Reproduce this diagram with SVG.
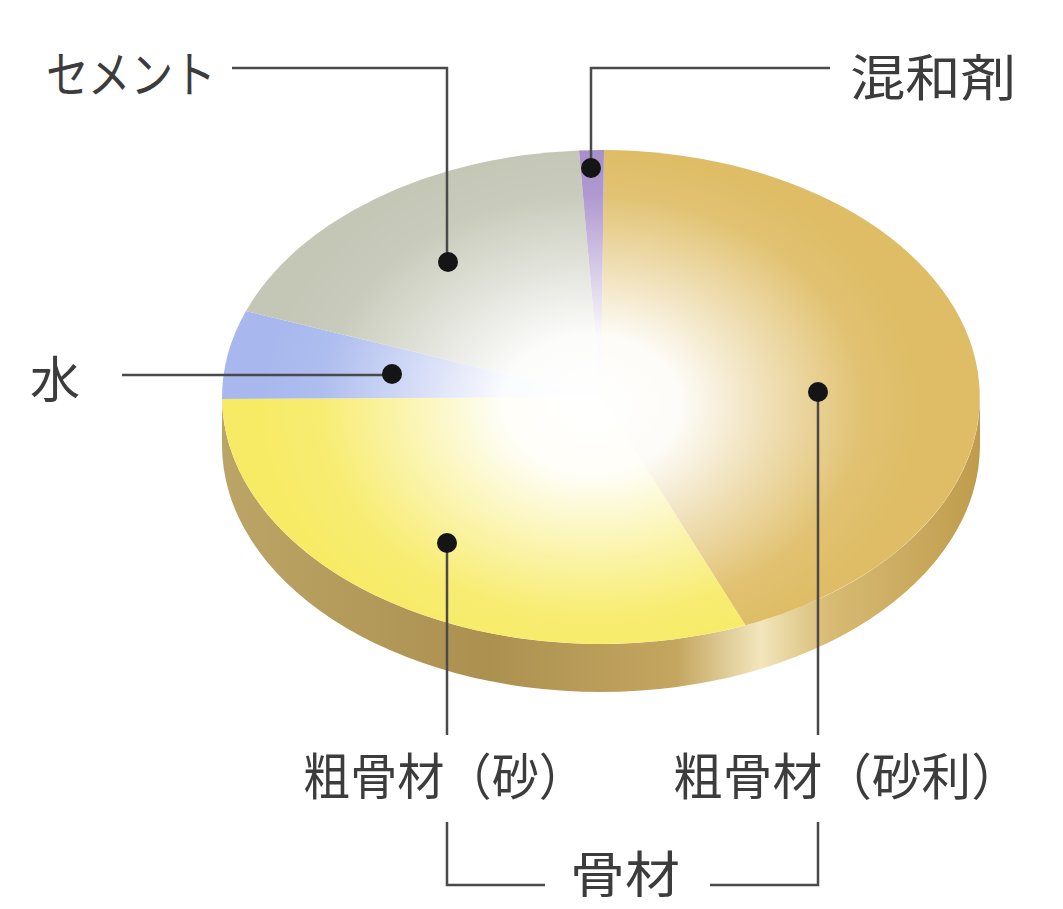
<svg xmlns="http://www.w3.org/2000/svg" width="1063" height="909" viewBox="0 0 1063 909">
<style>
.lbl{font-family:"Noto Sans CJK JP","Noto Sans",sans-serif;font-size:50px;fill:#3c3c3c;}
.ln{fill:none;stroke:#4a4a4a;stroke-width:2.5;}
.dot{fill:#151515;}
</style>
<defs>
<linearGradient id="side" x1="222" y1="0" x2="980" y2="0" gradientUnits="userSpaceOnUse">
<stop offset="0" stop-color="#bba566"/>
<stop offset="0.35" stop-color="#ac9050"/>
<stop offset="0.6" stop-color="#c4a660"/>
<stop offset="0.71" stop-color="#f2e6bc"/>
<stop offset="0.8" stop-color="#d8bb74"/>
<stop offset="1" stop-color="#bf9c4c"/>
</linearGradient>
<radialGradient id="hl" cx="592" cy="405" r="330" gradientUnits="userSpaceOnUse" gradientTransform="translate(592 405) scale(1 0.78) translate(-592 -405)">
<stop offset="0" stop-color="#fff" stop-opacity="1"/>
<stop offset="0.27" stop-color="#fff" stop-opacity="0.95"/>
<stop offset="0.55" stop-color="#fff" stop-opacity="0.5"/>
<stop offset="0.82" stop-color="#fff" stop-opacity="0.08"/>
<stop offset="1" stop-color="#fff" stop-opacity="0"/>
</radialGradient>
</defs>
<rect width="1063" height="909" fill="#fff"/>
<g id="pie">
<path d="M222,397 L222,445 A379,247 0 0 0 980,445 L980,397 A379,247 0 0 1 222,397 Z" fill="url(#side)"/>
<path id="gravel" d="M601,397 L604,150 A379,247 0 0 1 745.4,625.3 Z" fill="#dfbd66"/>
<path id="sand" d="M601,397 L745.4,625.3 A379,247 0 0 1 222,399 Z" fill="#f7eb66"/>
<path id="water" d="M601,397 L222,399 A379,247 0 0 1 246,311 Z" fill="#a8b8ee"/>
<path id="cement" d="M601,397 L246,311 A379,247 0 0 1 579,150.4 Z" fill="#c4c7b6"/>
<path id="admixture" d="M601,397 L579,150.4 A379,247 0 0 1 604,150 Z" fill="#a88fcb"/>
<ellipse cx="601" cy="397" rx="379" ry="247" fill="url(#hl)"/>
</g>
<g id="connectors">
<polyline class="ln" points="232,68 447,68 447,262"/>
<polyline class="ln" points="591,168 591,68 830,68"/>
<polyline class="ln" points="122,375 392,375"/>
<polyline class="ln" points="447,543 447,735"/>
<polyline class="ln" points="818,392 818,735"/>
<polyline class="ln" points="447,822 447,885 545,885"/>
<polyline class="ln" points="710,885 818,885 818,822"/>
</g>
<g id="dots">
<circle class="dot" cx="591" cy="168" r="10"/>
<circle class="dot" cx="448" cy="262" r="10"/>
<circle class="dot" cx="392" cy="374" r="10"/>
<circle class="dot" cx="818" cy="392" r="10"/>
<circle class="dot" cx="447" cy="543" r="10"/>
</g>
<g id="n-cement"><text class="lbl" x="46" y="93" textLength="170" lengthAdjust="spacingAndGlyphs">セメント</text></g>
<g id="n-admixture"><text class="lbl" x="850" y="96" textLength="166" lengthAdjust="spacingAndGlyphs">混和剤</text></g>
<g id="n-water"><text class="lbl" x="30" y="398">水</text></g>
<g id="n-sand"><text class="lbl" x="303" y="795" textLength="283" lengthAdjust="spacingAndGlyphs">粗骨材（砂）</text></g>
<g id="n-gravel"><text class="lbl" x="673" y="795" textLength="348" lengthAdjust="spacingAndGlyphs">粗骨材（砂利）</text></g>
<g id="n-aggregate"><text class="lbl" x="570" y="893" textLength="110" lengthAdjust="spacingAndGlyphs">骨材</text></g>
</svg>
